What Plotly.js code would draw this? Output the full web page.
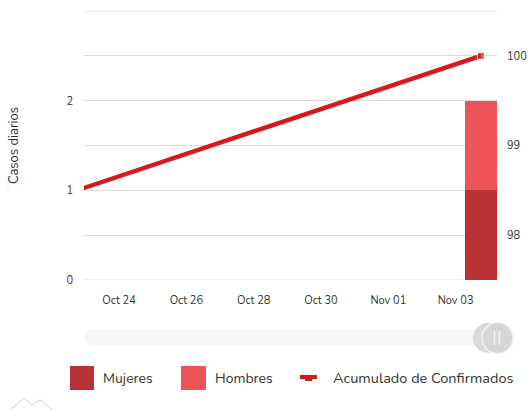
<!DOCTYPE html>
<html>
<head>
<meta charset="utf-8">
<script src="https://cdn.plot.ly/plotly-3.0.1.min.js"></script>
<style>
html,body{margin:0;padding:0;background:#fff;}
#chart{width:531px;height:410px;}
</style>
</head>
<body>
<div id="chart"></div>
<script>
// Data
const barDates = ['2020-11-03 18:00'];
const mujeres = [1];
const hombres = [1];
const lineDates = ['2020-10-18 18:00', '2020-11-03 18:00'];
const acumulado = [98, 100];
const seriesNames = ['Mujeres', 'Hombres', 'Acumulado de Confirmados'];
const leftTickVals = [0, 0.5, 1, 1.5, 2, 2.5, 3];
const leftTickText = ['0', '', '1', '', '2', '', ''];
const rightTickVals = [98, 99, 100];

const cMuj = '#b83236';
const cHom = '#ec5457';
const cLine = '#d7191f';
const font = 'Nunito, "Open Sans", Lato, sans-serif';
const DAY = 86400000;

const traces = [
  {type: 'bar', x: barDates, y: mujeres, name: seriesNames[0], marker: {color: cMuj}, width: 0.96 * DAY, showlegend: false, hoverinfo: 'x+y'},
  {type: 'bar', x: barDates, y: hombres, name: seriesNames[1], marker: {color: cHom}, width: 0.96 * DAY, showlegend: false, hoverinfo: 'x+y'},
  {type: 'scatter', mode: 'lines+markers', x: lineDates, y: acumulado, name: seriesNames[2], yaxis: 'y2',
   line: {color: cLine, width: 4.5}, marker: {symbol: 'square', size: [0, 7], color: cLine}, showlegend: false}
];

// pixel -> paper helpers (plot area 84..497 x, 11..280 y)
function px(x) { return (x - 84) / 413; }
function py(y) { return (280 - y) / 269; }

const shapes = [];
// gridlines at edges (0 and 3)
shapes.push({type: 'line', xref: 'paper', yref: 'y', x0: 0, x1: 1, y0: 0, y1: 0, line: {color: '#dedede', width: 1}, layer: 'below'});
shapes.push({type: 'line', xref: 'paper', yref: 'y', x0: 0, x1: 1, y0: 3, y1: 3, line: {color: '#dedede', width: 1}, layer: 'below'});
// range slider track and handles
shapes.push({type: 'circle', xref: 'paper', yref: 'paper', x0: px(84), x1: px(99), y0: py(345), y1: py(330), fillcolor: '#f5f5f5', line: {width: 0}, layer: 'below'});
shapes.push({type: 'rect', xref: 'paper', yref: 'paper', x0: px(91.5), x1: px(490), y0: py(345), y1: py(330), fillcolor: '#f5f5f5', line: {width: 0}, layer: 'below'});
shapes.push({type: 'circle', xref: 'paper', yref: 'paper', x0: px(473), x1: px(503), y0: py(353), y1: py(323), fillcolor: '#dadada', line: {width: 0}});
shapes.push({type: 'circle', xref: 'paper', yref: 'paper', x0: px(482), x1: px(513), y0: py(353.5), y1: py(322.5), fillcolor: '#d6d6d6', line: {color: '#f3f3f3', width: 1.5}});
shapes.push({type: 'line', xref: 'paper', yref: 'paper', x0: px(494.5), x1: px(494.5), y0: py(345), y1: py(331), line: {color: '#f3f3f3', width: 1.5}});
shapes.push({type: 'line', xref: 'paper', yref: 'paper', x0: px(499.5), x1: px(499.5), y0: py(345), y1: py(331), line: {color: '#f3f3f3', width: 1.5}});
// custom legend swatches
shapes.push({type: 'rect', xref: 'paper', yref: 'paper', x0: px(70), x1: px(94), y0: py(390), y1: py(366), fillcolor: cMuj, line: {width: 0}});
shapes.push({type: 'rect', xref: 'paper', yref: 'paper', x0: px(181), x1: px(206), y0: py(390), y1: py(366), fillcolor: cHom, line: {width: 0}});
shapes.push({type: 'line', xref: 'paper', yref: 'paper', x0: px(300), x1: px(317), y0: py(377), y1: py(377), line: {color: cLine, width: 4}});
shapes.push({type: 'rect', xref: 'paper', yref: 'paper', x0: px(305), x1: px(312), y0: py(381), y1: py(376), fillcolor: cLine, line: {width: 0}});
// watermark logo
shapes.push({type: 'path', xref: 'paper', yref: 'paper',
  path: 'M ' + px(8) + ' ' + py(412) + ' L ' + px(24) + ' ' + py(398) + ' L ' + px(32) + ' ' + py(405) + ' L ' + px(40) + ' ' + py(400) + ' L ' + px(52) + ' ' + py(410),
  line: {color: '#cfcfcf', width: 1}});

const annotations = [
  {xref: 'paper', yref: 'paper', x: px(101), y: py(378), text: seriesNames[0], showarrow: false, xanchor: 'left', yanchor: 'middle', font: {family: font, size: 14, color: '#333'}},
  {xref: 'paper', yref: 'paper', x: px(213), y: py(378), text: seriesNames[1], showarrow: false, xanchor: 'left', yanchor: 'middle', font: {family: font, size: 14, color: '#333'}},
  {xref: 'paper', yref: 'paper', x: px(331), y: py(378), text: seriesNames[2], showarrow: false, xanchor: 'left', yanchor: 'middle', font: {family: font, size: 14.5, color: '#333'}}
];

const layout = {
  width: 531, height: 410,
  margin: {l: 84, r: 34, t: 11, b: 130},
  paper_bgcolor: '#fff', plot_bgcolor: '#fff',
  barmode: 'stack',
  showlegend: false,
  font: {family: font, size: 11, color: '#333'},
  xaxis: {
    type: 'date', range: ['2020-10-22 23:00', '2020-11-04 05:30'],
    tick0: '2020-10-24', dtick: 2 * DAY, tickformat: '%b %d',
    showgrid: false, zeroline: false, showline: false, ticks: '',
    ticklabelstandoff: 12,
    tickfont: {family: font, size: 11, color: '#333'}, fixedrange: true
  },
  yaxis: {
    range: [0, 3], tickmode: 'array', tickvals: leftTickVals, ticktext: leftTickText,
    showgrid: true, gridcolor: '#dedede', gridwidth: 1, zeroline: false, showline: false, ticks: '',
    ticklabelstandoff: 10,
    title: {text: 'Casos diarios', font: {family: font, size: 13, color: '#333'}, standoff: 44},
    tickfont: {family: font, size: 11, color: '#333'}, fixedrange: true
  },
  yaxis2: {
    overlaying: 'y', side: 'right', range: [97.5, 100.5], tickmode: 'array', tickvals: rightTickVals,
    showgrid: false, zeroline: false, showline: false, ticks: '',
    ticklabelstandoff: 9,
    tickfont: {family: font, size: 11, color: '#333'}, fixedrange: true
  },
  shapes: shapes,
  annotations: annotations
};

Plotly.newPlot('chart', traces, layout, {displayModeBar: false, staticPlot: true});
</script>
</body>
</html>
